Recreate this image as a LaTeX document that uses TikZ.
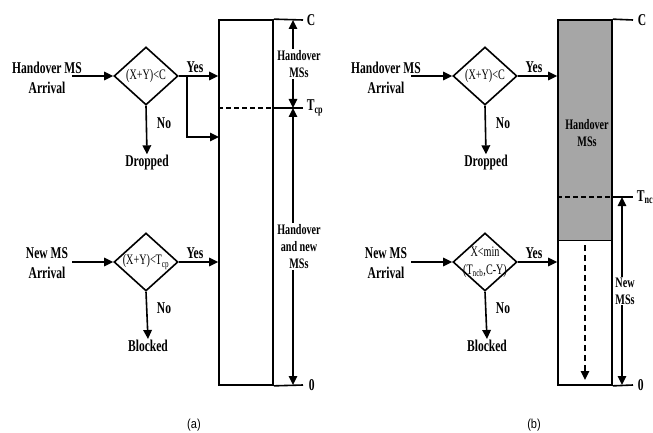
\documentclass[tikz,border=0pt]{standalone}
\usepackage{fontspec}
\setmainfont{Liberation Serif}[FakeStretch=0.7]
\newfontfamily\capfont{Liberation Sans}[FakeStretch=0.85]
\usetikzlibrary{positioning,arrows.meta,shapes.geometric,backgrounds}

\begin{document}
\begin{tikzpicture}[x=1pt, y=-1pt,
        lbl/.style={align=center, inner sep=1pt,
                    font=\bfseries\fontsize{16.5}{20}\selectfont},
        inlbl/.style={align=center, inner sep=1pt, fill=white,
                      font=\bfseries\fontsize{14.5}{17}\selectfont},
        dtxt/.style={align=center, inner sep=0pt,
                     font=\fontsize{14.5}{18}\selectfont},
        dec/.style={draw, diamond, minimum width=64pt, minimum height=58pt,
                    inner sep=0pt, line width=1.6pt},
        buf/.style={draw, rectangle, minimum width=54pt, minimum height=365pt,
                    line width=1.7pt},
        arr/.style={-{Triangle[length=9pt,width=8.5pt]}, line width=1.6pt},
        darr/.style={{Triangle[length=9pt,width=8.5pt]}-{Triangle[length=9pt,width=8.5pt]},
                     line width=1.6pt},
        lvl/.style={line width=1.6pt},
        sepline/.style={line width=1.6pt, dash pattern=on 5pt off 3pt},
        subcap/.style={font=\capfont\fontsize{13}{15}\selectfont}
    ]
    \useasboundingbox (0,0) rectangle (653,433);

    % (a) handover branch
    \node[lbl] (hoA) at (47,78) {Handover MS\\Arrival};
    \coordinate (inHoA) at (72,76);
    \node[dec, label={[dtxt]center:(X+Y)<C}] (decHoA) at (146,76) {};
    \node[lbl] (yesHoA) at (195,67) {Yes};
    \node[lbl] (noHoA) at (164,123) {No};
    \node[lbl] (dropA) at (147,163) {Dropped};

    % (a) new call branch
    \node[lbl] (newA) at (47,263) {New MS\\Arrival};
    \coordinate (inNewA) at (72,262);
    \node[dec, label={[dtxt]center:(X+Y)<T\textsubscript{cp}}] (decNewA) at (146,262) {};
    \node[lbl] (yesNewA) at (195,253) {Yes};
    \node[lbl] (noNewA) at (164,308) {No};
    \node[lbl] (blockA) at (148,346) {Blocked};

    % (a) channel pool
    \node[buf] (poolA) at (246,202.5) {};
    \coordinate (cA) at (303,20);
    \coordinate (tA) at (303,108);
    \coordinate (zA) at (303,385);
    \coordinate (splitA) at (187,76);
    \coordinate (joinA) at (219,137);

    \draw[arr] (inHoA) -- (decHoA.west);
    \draw[arr] (decHoA.east) -- (decHoA.east -| poolA.west);
    \draw[arr] (splitA) |- (joinA);
    \draw[arr] (decHoA.south) -- (dropA.north);
    \draw[arr] (inNewA) -- (decNewA.west);
    \draw[arr] (decNewA.east) -- (decNewA.east -| poolA.west);
    \draw[arr] (decNewA.south) -- (blockA.north);

    \draw[lvl] (poolA.north east) -- (cA) node[lbl, right=2pt] {C};
    \draw[sepline] (poolA.west |- tA) -- (poolA.east |- tA);
    \draw[lvl] (poolA.east |- tA) -- (tA) node[lbl, right=2pt] {T\textsubscript{cp}};
    \draw[lvl] (poolA.south east) -- (zA) node[lbl, right=4pt] {0};
    \draw[darr] ([xshift=-10pt]cA) -- ([xshift=-10pt]tA)
        node[inlbl, midway, xshift=6pt] {Handover\\MSs};
    \draw[darr] ([xshift=-10pt]tA) -- ([xshift=-10pt]zA)
        node[inlbl, midway, xshift=6pt] {Handover\\and new\\MSs};

    \node[subcap] (capA) at (194,425) {(a)};

    % (b) handover branch
    \node[lbl] (hoB) at (386,78) {Handover MS\\Arrival};
    \coordinate (inHoB) at (411,76);
    \node[dec, label={[dtxt]center:(X+Y)<C}] (decHoB) at (485,76) {};
    \node[lbl] (yesHoB) at (534,67) {Yes};
    \node[lbl] (noHoB) at (503,123) {No};
    \node[lbl] (dropB) at (486,163) {Dropped};

    % (b) new call branch
    \node[lbl] (newB) at (386,263) {New MS\\Arrival};
    \coordinate (inNewB) at (411,262);
    \node[dec, label={[dtxt]center:{X<min\\(T\textsubscript{ncb},C-Y)}}] (decNewB) at (485,262) {};
    \node[lbl] (yesNewB) at (534,253) {Yes};
    \node[lbl] (noNewB) at (503,308) {No};
    \node[lbl] (blockB) at (487,346) {Blocked};

    % (b) channel pool
    \node[buf] (poolB) at (585,202.5) {};
    \coordinate (cB) at (633,20);
    \coordinate (tB) at (633,197);
    \coordinate (zB) at (633,385);
    \coordinate (shB) at (612,240);
    \coordinate (dTopB) at (585,245);
    \coordinate (dEndB) at (585,380);
    \begin{scope}[on background layer]
        \fill[black!35] (poolB.north west) rectangle (shB);
    \end{scope}
    \draw[line width=0.9pt] (poolB.west |- shB) -- (shB);
    \node[inlbl, fill=none] (hoMsB) at (587,133) {Handover\\MSs};

    \draw[arr] (inHoB) -- (decHoB.west);
    \draw[arr] (decHoB.east) -- (decHoB.east -| poolB.west);
    \draw[arr] (decHoB.south) -- (dropB.north);
    \draw[arr] (inNewB) -- (decNewB.west);
    \draw[arr] (decNewB.east) -- (decNewB.east -| poolB.west);
    \draw[arr] (decNewB.south) -- (blockB.north);

    \draw[lvl] (poolB.north east) -- (cB) node[lbl, right=3pt] {C};
    \draw[sepline] (poolB.west |- tB) -- (poolB.east |- tB);
    \draw[lvl] (poolB.east |- tB) -- (tB) node[lbl, right=2pt] {T\textsubscript{nc}};
    \draw[lvl] (poolB.south east) -- (zB) node[lbl, right=3pt] {0};
    \draw[darr] ([xshift=-11pt]tB) -- ([xshift=-11pt]zB)
        node[inlbl, midway, xshift=3pt] {New\\MSs};
    \draw[arr, dash pattern=on 6pt off 4pt] (dTopB) -- (dEndB);

    \node[subcap] (capB) at (534,425) {(b)};
\end{tikzpicture}
\end{document}
